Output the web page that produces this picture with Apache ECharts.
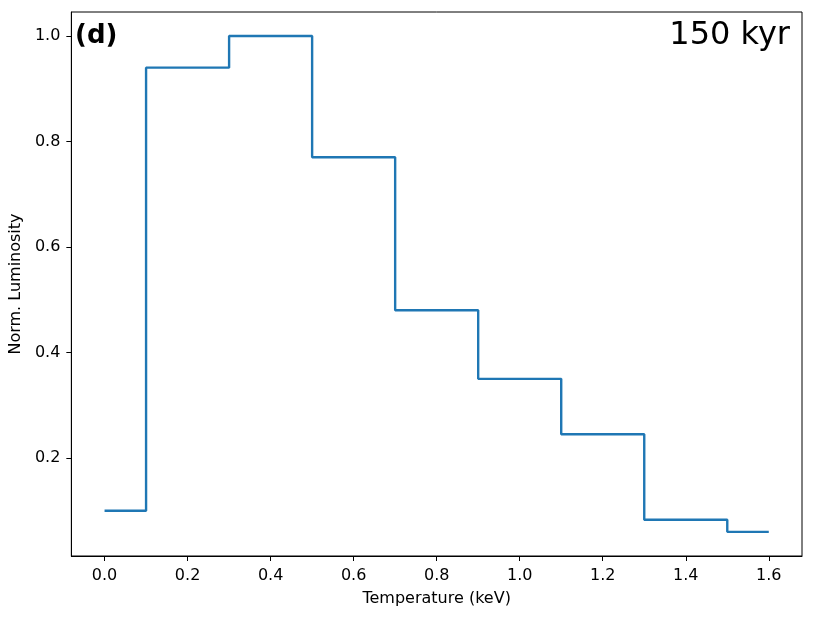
<!DOCTYPE html>
<html><head><meta charset="utf-8">
<script src="https://cdn.jsdelivr.net/npm/echarts@6/dist/echarts.min.js"></script>
<style>html,body{margin:0;padding:0;background:#fff}#c{width:814px;height:618px}</style>
</head><body><div id="c"></div>
<script>
const temperature = [0.0, 0.2, 0.4, 0.6, 0.8, 1.0, 1.2, 1.4, 1.6];
const luminosity = [0.10, 0.94, 1.00, 0.77, 0.48, 0.35, 0.245, 0.083, 0.06];
const xTicks = [0.0, 0.2, 0.4, 0.6, 0.8, 1.0, 1.2, 1.4, 1.6];
const yTicks = [0.2, 0.4, 0.6, 0.8, 1.0];
const panelLabel = '(d)';
const ageLabel = '150 kyr';
const xTitle = 'Temperature (keV)';
const yTitle = 'Norm. Luminosity';

const font = 'DejaVu Sans';
const chart = echarts.init(document.getElementById('c'));
chart.setOption({
  animation: false,
  backgroundColor: '#fff',
  grid: {left: 71, right: 12, top: 12, bottom: 62, show: true, borderColor: '#000', borderWidth: 1},
  xAxis: {
    type: 'value', min: -0.08, max: 1.68,
    name: xTitle, nameLocation: 'middle', nameGap: 35,
    nameTextStyle: {fontFamily: font, fontSize: 16, color: '#000'},
    splitLine: {show: false},
    axisLine: {show: true, onZero: false, lineStyle: {color: '#000', width: 1}},
    axisTick: {show: true, inside: false, length: 5, customValues: xTicks, lineStyle: {color: '#000'}},
    axisLabel: {customValues: xTicks, fontFamily: font, fontSize: 16, color: '#000', margin: 12,
      formatter: v => v.toFixed(1)}
  },
  yAxis: {
    type: 'value', min: 0.0142, max: 1.0455,
    name: yTitle, nameLocation: 'middle', nameGap: 42,
    nameTextStyle: {fontFamily: font, fontSize: 16, color: '#000'},
    splitLine: {show: false},
    axisLine: {show: true, onZero: false, lineStyle: {color: '#000', width: 1}},
    axisTick: {show: true, inside: false, length: 5, customValues: yTicks, lineStyle: {color: '#000'}},
    axisLabel: {customValues: yTicks, fontFamily: font, fontSize: 16, color: '#000', margin: 11,
      formatter: v => v.toFixed(1)}
  },
  series: [{
    type: 'line', step: 'middle', symbol: 'none',
    data: temperature.map((t, i) => [t, luminosity[i]]),
    lineStyle: {color: '#1f77b4', width: 2.4}
  }],
  graphic: [
    {type: 'text', left: 75, top: 23, style: {text: panelLabel, fontFamily: font, fontSize: 26, fontWeight: 'bold', fill: '#000'}},
    {type: 'text', right: 24, top: 20, style: {text: ageLabel, fontFamily: font, fontSize: 32, fill: '#000'}}
  ]
});
</script></body></html>
